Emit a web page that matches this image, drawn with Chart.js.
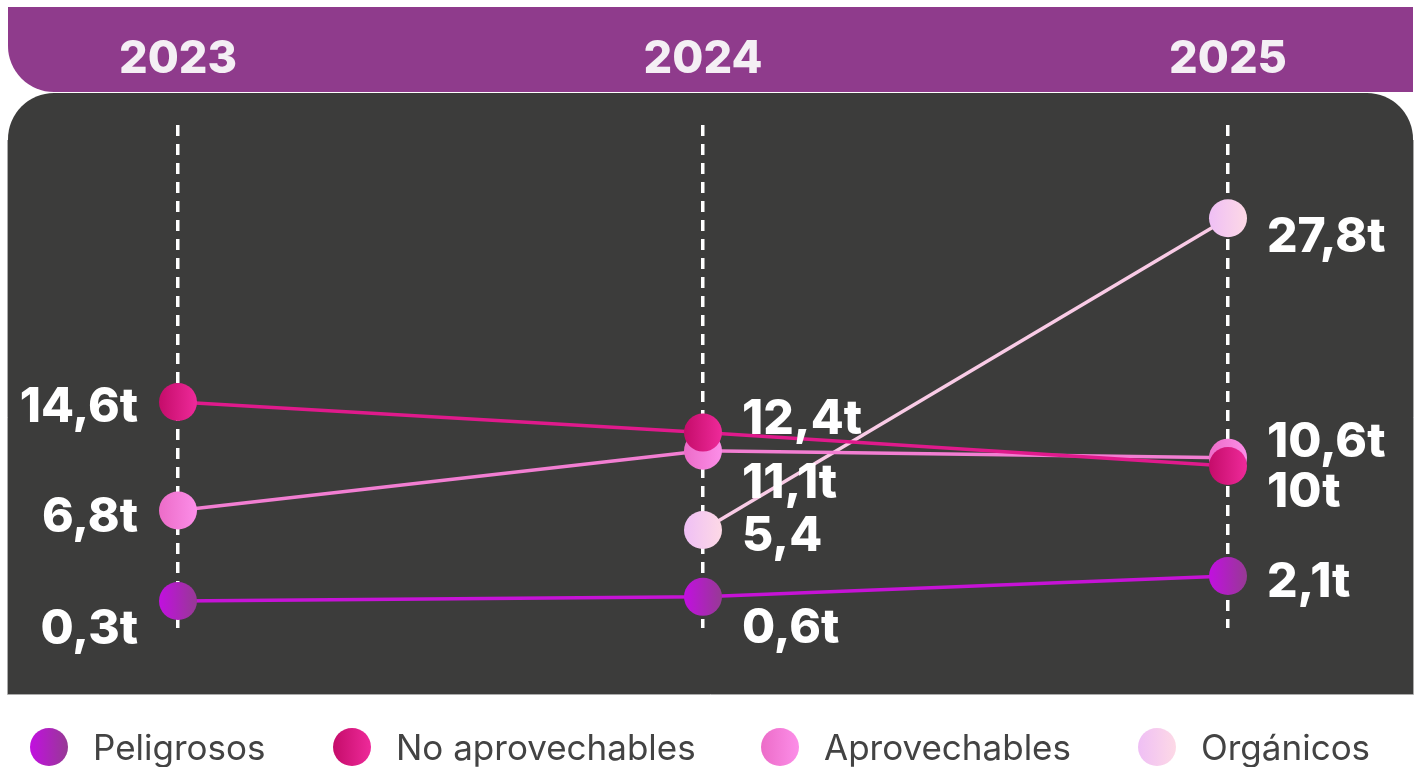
<!DOCTYPE html>
<html><head><meta charset="utf-8">
<script src="https://cdn.jsdelivr.net/npm/chart.js@4/dist/chart.umd.min.js"></script>
<style>html,body{margin:0;padding:0;background:#fff;overflow:hidden}#wrap{width:1419px;height:767px}</style>
</head><body><div id="wrap"><canvas id="c" width="1419" height="767"></canvas></div>
<script>
// ---- data ----
const years = ['2023', '2024', '2025'];
const seriesNames = ['Peligrosos', 'No aprovechables', 'Aprovechables', 'Orgánicos'];
const peligrosos = [0.3, 0.6, 2.1];
const noAprovechables = [14.6, 12.4, 10];
const aprovechables = [6.8, 11.1, 10.6];
const organicos = [null, 5.4, 27.8];
const peligrososLabels = ['0,3t', '0,6t', '2,1t'];
const noAprovechablesLabels = ['14,6t', '12,4t', '10t'];
const aprovechablesLabels = ['6,8t', '11,1t', '10,6t'];
const organicosLabels = [null, '5,4', '27,8t'];

const FONT = 'Inter, "Noto Sans", sans-serif';
const R = 19;

function pointGrad(c1, c2) {
  return (ctx) => {
    if (ctx.type !== 'data') return c2;
    const chart = ctx.chart;
    const sc = chart.scales && chart.scales.x;
    if (!sc) return c2;
    const x = sc.getPixelForValue(ctx.dataIndex);
    if (!isFinite(x)) return c2;
    const g = chart.ctx.createLinearGradient(x - R, 0, x + R, 0);
    g.addColorStop(0, c1); g.addColorStop(1, c2);
    return g;
  };
}

const styles = [
  {line: '#c613d6', g1: '#c20fe0', g2: '#963a94', dy: [26, 29, 4]},
  {line: '#e01a8c', g1: '#c50c6a', g2: '#ee2a9a', dy: [3, -16, 24]},
  {line: '#f27ed2', g1: '#ec6cc8', g2: '#fc8ee8', dy: [4, 30, -18]},
  {line: '#f9cbe6', g1: '#efbff5', g2: '#fdd9e6', dy: [0, 4, 17]}
];
const seriesValues = [peligrosos, noAprovechables, aprovechables, organicos];
const seriesLabels = [peligrososLabels, noAprovechablesLabels, aprovechablesLabels, organicosLabels];

const datasets = seriesNames.map((name, i) => ({
  label: name,
  data: seriesValues[i],
  valueLabels: seriesLabels[i],
  labelDy: styles[i].dy,
  borderColor: styles[i].line,
  borderWidth: 3.5,
  pointRadius: R,
  pointHoverRadius: R,
  pointBorderWidth: 0,
  pointBackgroundColor: pointGrad(styles[i].g1, styles[i].g2),
  legendG1: styles[i].g1,
  legendG2: styles[i].g2,
  spanGaps: false,
  tension: 0
}));

function roundRectPath(ctx, x, y, w, h, r) { // r: [tl,tr,br,bl]
  ctx.beginPath();
  ctx.moveTo(x + r[0], y);
  ctx.lineTo(x + w - r[1], y);
  ctx.arcTo(x + w, y, x + w, y + r[1], r[1]);
  ctx.lineTo(x + w, y + h - r[2]);
  ctx.arcTo(x + w, y + h, x + w - r[2], y + h, r[2]);
  ctx.lineTo(x + r[3], y + h);
  ctx.arcTo(x, y + h, x, y + h - r[3], r[3]);
  ctx.lineTo(x, y + r[0]);
  ctx.arcTo(x, y, x + r[0], y, r[0]);
  ctx.closePath();
}

const backgroundPlugin = {
  id: 'bg',
  beforeDraw(chart) {
    const ctx = chart.ctx;
    ctx.save();
    ctx.fillStyle = '#ffffff';
    ctx.fillRect(0, 0, chart.width, chart.height);
    // header band
    ctx.fillStyle = '#8f3b8c';
    roundRectPath(ctx, 8, 7, 1405, 85, [0, 0, 0, 46]);
    ctx.fill();
    // dark panel
    ctx.fillStyle = '#3c3c3b';
    roundRectPath(ctx, 8, 93, 1405, 601, [46, 46, 0, 0]);
    ctx.fill();
    ctx.strokeStyle = 'rgba(150,150,150,0.8)';
    ctx.lineWidth = 1;
    ctx.beginPath();
    ctx.moveTo(7.5, 140); ctx.lineTo(7.5, 694.5); ctx.lineTo(1413.5, 694.5); ctx.lineTo(1413.5, 140);
    ctx.stroke();
    // year labels from the x scale
    const xs = chart.scales.x;
    ctx.fillStyle = '#f4eff4';
    ctx.font = '800 45px ' + FONT;
    ctx.textAlign = 'center';
    ctx.textBaseline = 'alphabetic';
    chart.data.labels.forEach((lab, i) => {
      ctx.fillText(lab, xs.getPixelForValue(i), 73);
    });
    ctx.restore();
  }
};

const valueLabelPlugin = {
  id: 'valueLabels',
  afterDatasetsDraw(chart) {
    const ctx = chart.ctx;
    ctx.save();
    ctx.fillStyle = '#ffffff';
    ctx.font = '800 48px ' + FONT;
    ctx.textBaseline = 'alphabetic';
    chart.data.datasets.forEach((ds, di) => {
      const meta = chart.getDatasetMeta(di);
      meta.data.forEach((el, i) => {
        if (ds.data[i] == null || !ds.valueLabels[i]) return;
        const y = el.y + ds.labelDy[i] + 17;
        if (i === 0) { ctx.textAlign = 'right'; ctx.fillText(ds.valueLabels[i], el.x - 40, y); }
        else { ctx.textAlign = 'left'; ctx.fillText(ds.valueLabels[i], el.x + 39, y); }
      });
    });
    ctx.restore();
  }
};

const legendPlugin = {
  id: 'customLegend',
  afterDraw(chart) {
    const ctx = chart.ctx;
    const starts = [30, 333, 761, 1138];
    const cy = 747;
    ctx.save();
    ctx.font = '400 35px ' + FONT;
    ctx.textBaseline = 'alphabetic';
    ctx.textAlign = 'left';
    chart.data.datasets.forEach((ds, i) => {
      const cx = starts[i] + R;
      const g = ctx.createLinearGradient(cx - R, 0, cx + R, 0);
      g.addColorStop(0, ds.legendG1); g.addColorStop(1, ds.legendG2);
      ctx.fillStyle = g;
      ctx.beginPath(); ctx.arc(cx, cy, R, 0, Math.PI * 2); ctx.fill();
      ctx.fillStyle = '#434343';
      ctx.fillText(ds.label, cx + 44, cy + 13);
    });
    ctx.restore();
  }
};

new Chart(document.getElementById('c'), {
  type: 'line',
  data: { labels: years, datasets },
  options: {
    responsive: false,
    animation: false,
    devicePixelRatio: 1,
    layout: { padding: { left: 178, right: 191, top: 125, bottom: 139 } },
    plugins: { legend: { display: false }, tooltip: { enabled: false } },
    scales: {
      x: {
        type: 'category',
        position: 'top',
        offset: false,
        ticks: { display: false },
        grid: { color: '#ffffff', lineWidth: 3.5, drawTicks: false, offset: false },
        border: { display: false, dash: [11, 8] }
      },
      y: {
        type: 'linear',
        display: false,
        min: -1.64,
        max: 34.5
      }
    }
  },
  plugins: [backgroundPlugin, valueLabelPlugin, legendPlugin]
});
</script>
</body></html>
